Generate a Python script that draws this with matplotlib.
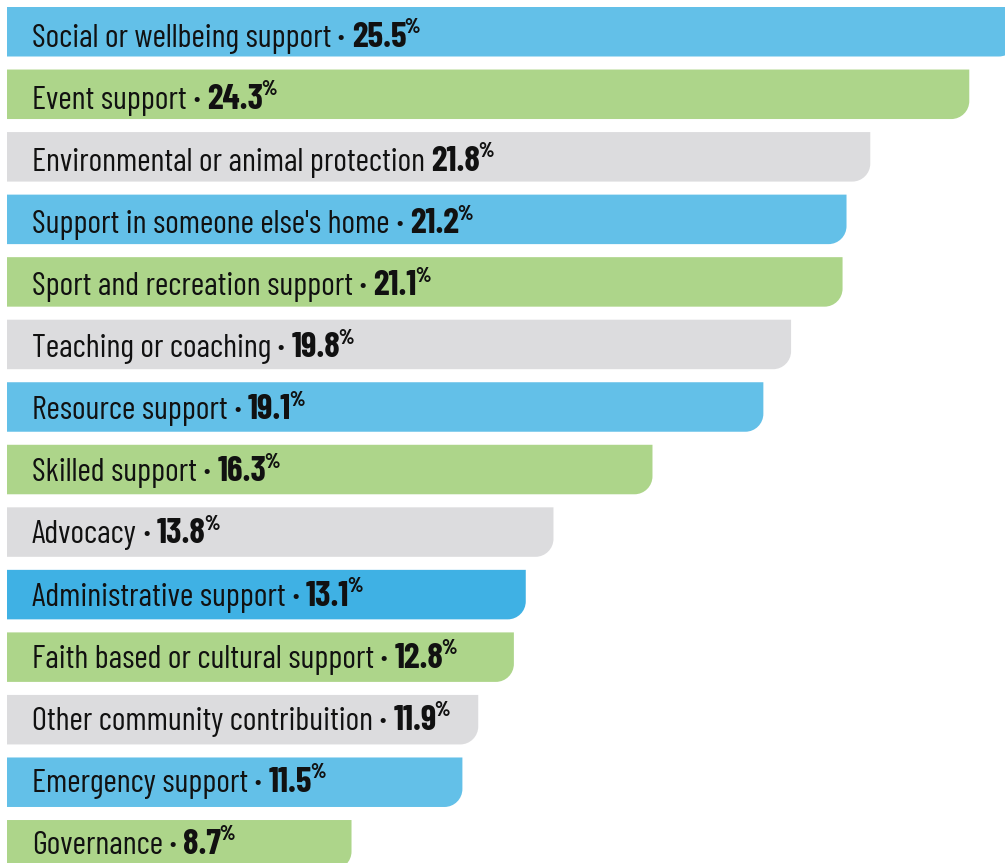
import matplotlib
matplotlib.use("Agg")
import matplotlib.pyplot as plt
from matplotlib.path import Path
from matplotlib.patches import PathPatch

# Volunteering activity types, share of volunteers (%)
categories = [
    "Social or wellbeing support",
    "Event support",
    "Environmental or animal protection",
    "Support in someone else's home",
    "Sport and recreation support",
    "Teaching or coaching",
    "Resource support",
    "Skilled support",
    "Advocacy",
    "Administrative support",
    "Faith based or cultural support",
    "Other community contribuition",
    "Emergency support",
    "Governance",
]
values = [25.5, 24.3, 21.8, 21.2, 21.1, 19.8, 19.1, 16.3, 13.8, 13.1, 12.8, 11.9, 11.5, 8.7]
no_dot = ["Environmental or animal protection"]

BLUE = "#63C0E8"
BLUE_DARK = "#3FB1E4"
GREEN = "#ADD58A"
GREY = "#DCDCDE"
bar_colors = [BLUE, GREEN, GREY, BLUE, GREEN, GREY, BLUE, GREEN, GREY,
              BLUE_DARK, GREEN, GREY, BLUE, GREEN]

plt.rcParams['font.family'] = ['Barlow Condensed', 'Roboto Condensed', 'DejaVu Sans']

W, H = 1005, 863
fig = plt.figure(figsize=(W / 100, H / 100), dpi=100)
ax = fig.add_axes([0, 0, 1, 1])

px_per_pct = 39.6      # horizontal pixels per percent
px_per_row = 62.54     # vertical pixels per bar row
left_px = 7
first_center_px = 31.75

ax.set_xlim(-left_px / px_per_pct, (W - left_px) / px_per_pct)
ax.set_ylim((H - first_center_px) / px_per_row, -first_center_px / px_per_row)
ax.axis('off')

bar_h = 49.5 / px_per_row
rx = 18 / px_per_pct
ry = 18 / px_per_row
k = 0.5523


def rounded_bar(y, width, color):
    top, bot = y - bar_h / 2, y + bar_h / 2
    verts = [
        (0, top), (width, top), (width, bot - ry),
        (width, bot - ry + k * ry), (width - rx + k * rx, bot), (width - rx, bot),
        (0, bot), (0, top),
    ]
    codes = [Path.MOVETO, Path.LINETO, Path.LINETO,
             Path.CURVE4, Path.CURVE4, Path.CURVE4,
             Path.LINETO, Path.CLOSEPOLY]
    ax.add_patch(PathPatch(Path(verts, codes), facecolor=color, edgecolor='none'))


renderer = fig.canvas.get_renderer()
inv = ax.transData.inverted()


def next_x(t, gap_px=0):
    bb = t.get_window_extent(renderer)
    return inv.transform((bb.x1 + gap_px, bb.y0))[0]


text_x = (32 - left_px) / px_per_pct
INK = '#111111'

for i, (cat, val, col) in enumerate(zip(categories, values, bar_colors)):
    rounded_bar(i, val, col)
    # labels drift up slightly against the bars going down the list
    yb = i + (15 - 0.45 * i) / px_per_row
    t = ax.text(text_x, yb, cat, fontsize=23.5, va='baseline', ha='left', color=INK)
    x = next_x(t)
    if cat not in no_dot:
        t = ax.text(x, yb, " \u00b7 ", fontsize=23.5, fontweight='bold', va='baseline',
                    ha='left', color=INK)
    else:
        t = ax.text(x, yb, " ", fontsize=23.5, va='baseline', ha='left')
    x = next_x(t)
    t = ax.text(x, yb, f"{val:.1f}", fontsize=25.5, fontweight='bold', va='baseline',
                ha='left', color=INK)
    x = next_x(t, -2)
    ax.text(x, yb - 13.5 / px_per_row, "%", fontsize=14.5, fontweight='heavy',
            va='baseline', ha='left', color=INK)

fig.savefig("out.png", dpi=100)
